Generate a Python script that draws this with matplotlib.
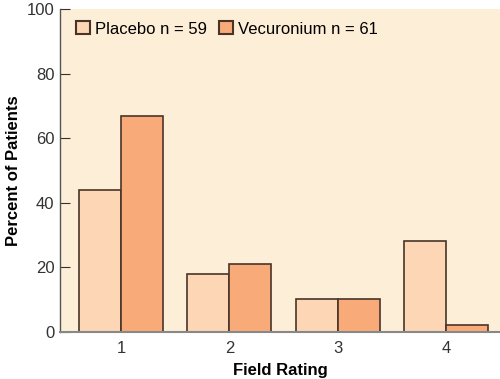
import numpy as np
import matplotlib
matplotlib.use("Agg")
import matplotlib.pyplot as plt

plt.rcParams['font.family'] = ['Liberation Sans', 'DejaVu Sans']

ratings = [1, 2, 3, 4]
placebo = [44, 18, 10, 28]
vecuronium = [67, 21, 10, 2]
series_labels = ["Placebo n = 59", "Vecuronium n = 61"]

fig = plt.figure(figsize=(5, 3.79), dpi=100)
ax = fig.add_axes([0.12, 0.125, 0.88, 0.85])
ax.set_facecolor("#FDEED7")

x = np.array(ratings)
w = 0.388
edge = "#4a3428"
ax.bar(x - w / 2, placebo, w, color="#FCD6B5", edgecolor=edge, linewidth=1.2, label=series_labels[0])
ax.bar(x + w / 2, vecuronium, w, color="#F8AB78", edgecolor=edge, linewidth=1.2, label=series_labels[1])

ax.set_xlim(0.437, 4.498)
ax.set_ylim(0, 100)
ax.set_xticks(ratings)
ax.set_yticks([0, 20, 40, 60, 80, 100])
ax.tick_params(axis='x', length=0, labelsize=12, pad=7, colors="#333333")
ax.tick_params(axis='y', direction='in', length=7, labelsize=12, colors="#333333", pad=4)

for s in ['top', 'right']:
    ax.spines[s].set_visible(False)
ax.spines['left'].set_color("#555555")
ax.spines['left'].set_linewidth(1.0)
ax.spines['bottom'].set_color("#888888")
ax.spines['bottom'].set_linewidth(1.5)

ax.set_xlabel("Field Rating", fontsize=12, fontweight='bold', labelpad=5)
ax.set_ylabel("Percent of Patients", fontsize=12, fontweight='bold', labelpad=4)

leg = ax.legend(loc='upper left', ncol=2, frameon=False, fontsize=12,
                handlelength=0.85, handleheight=0.85, handletextpad=0.3,
                columnspacing=0.7, bbox_to_anchor=(0.01, 1.0), borderaxespad=0.3)
for h in leg.legend_handles:
    h.set_linewidth(1.5)

fig.savefig("out.png", dpi=100)
